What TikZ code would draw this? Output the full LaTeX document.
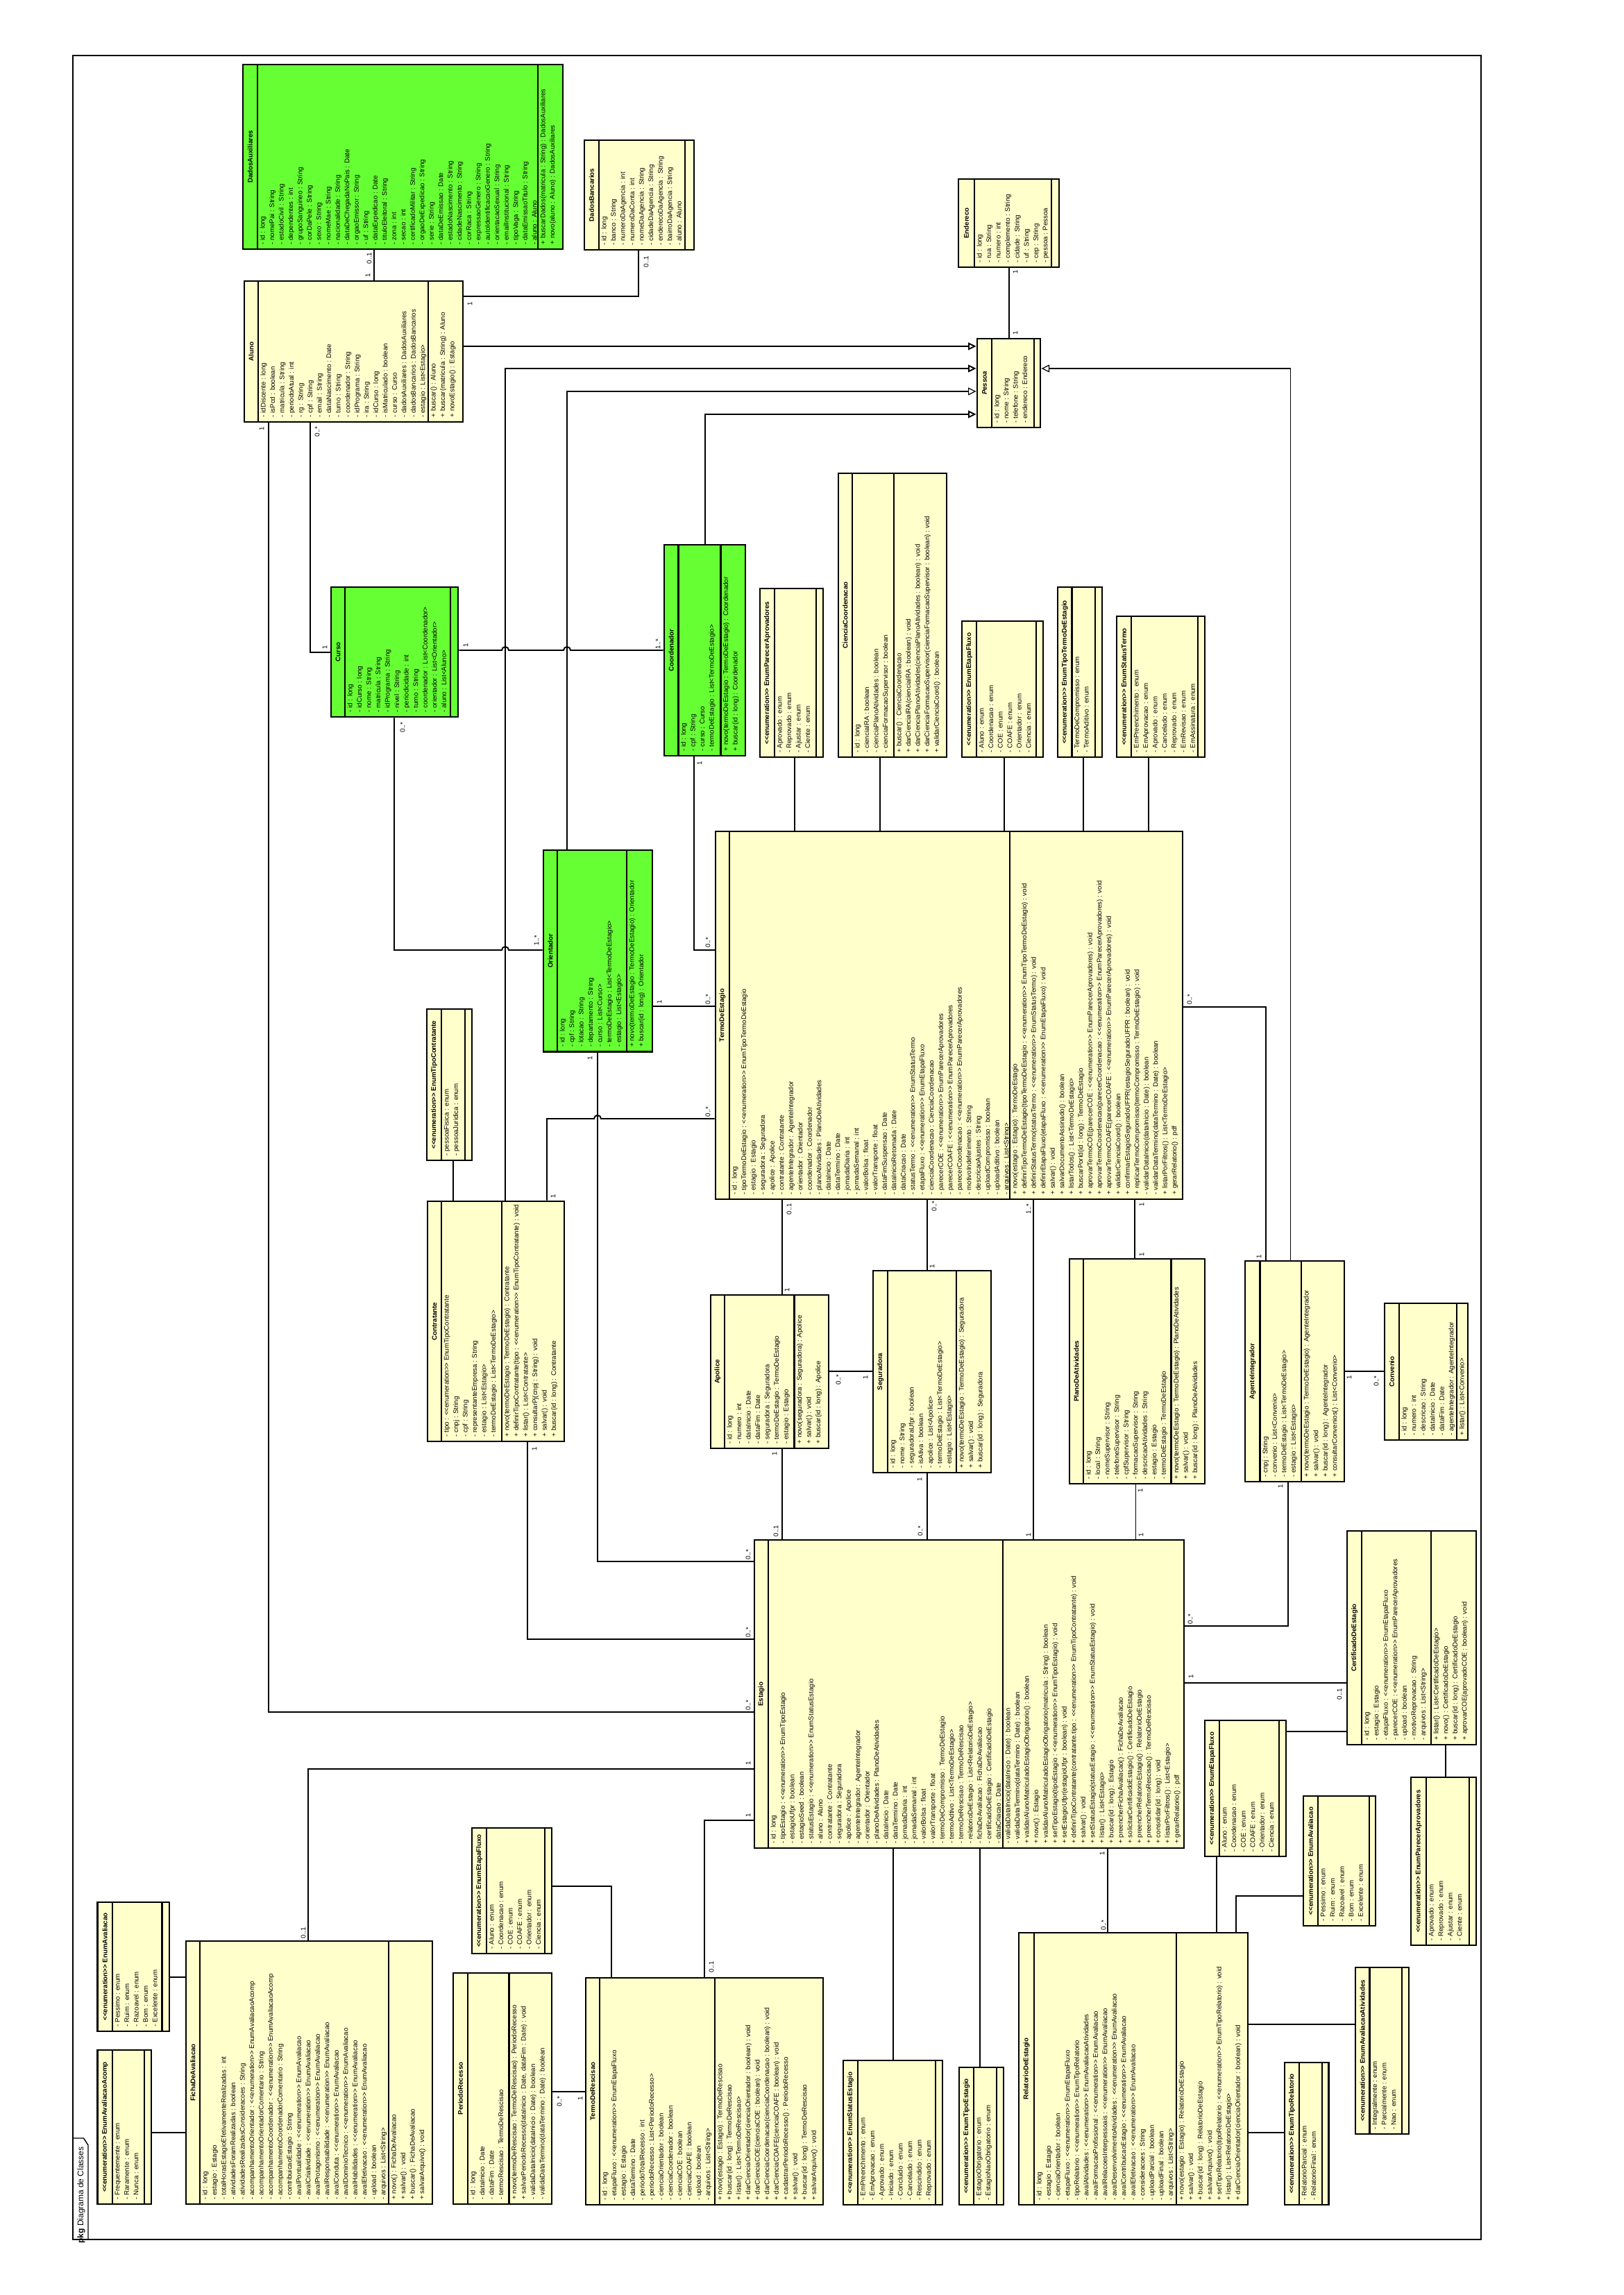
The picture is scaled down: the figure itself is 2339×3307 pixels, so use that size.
\documentclass[tikz,border=0pt]{standalone}
\usepackage{fontspec}
\setmainfont{Liberation Sans}
\usetikzlibrary{arrows.meta,fit}
\definecolor{yel}{HTML}{FFFFCC}
\definecolor{grn}{HTML}{66FF33}
\newcommand\E{<\kern0pt<enumeration>\kern0pt>}
\newcommand\umlclass[9]{%
  \node[draw,line width=0.8pt,fill=#2,inner sep=0pt,fit={(#3,#4)(#5,#6)}] (#1) {};
  \draw[line width=0.7pt] (#7,#4) -- (#7,#6) (#8,#4) -- (#8,#6);
  \node[clstitle] (#1-t) at ({(#3+#7)/2},{(#4+#6)/2}) {#9};
  \coordinate (#1-a) at (#7,#6);
  \coordinate (#1-o) at (#8,#6);}
\newcommand\attrs[2]{\node[clstxt] (#1-at) at ([shift={(3,-6)}]#1-a) {#2};}
\newcommand\opers[2]{\node[clstxt] (#1-op) at ([shift={(3,-6)}]#1-o) {#2};}
\begin{document}
\begin{tikzpicture}[x=0.01cm,y=-0.01cm,
  clstxt/.style={rotate=90,anchor=north west,align=left,inner sep=0pt,font=\fontsize{2.75}{3.84}\selectfont},
  clstitle/.style={rotate=90,inner sep=0pt,align=center,font=\fontsize{2.75}{3.84}\selectfont\bfseries},
  mult/.style={rotate=90,inner sep=0pt,font=\fontsize{2.75}{3.84}\selectfont},
  conn/.style={line width=0.55pt},
  thinc/.style={line width=0.35pt},
  gen/.style={-{Triangle[open,length=3.3pt,width=3.1pt]}}]
\fill[white] (0,0) rectangle (2339,3307);
\useasboundingbox (0,0) rectangle (2339,3307);
\draw[line width=0.4pt] (105,80) rectangle (2134,3227);
\draw[line width=0.4pt] (105,3081) -- (120.5,3081) -- (127,3091) -- (127,3227);
\node[rotate=90,inner sep=0pt,font=\fontsize{3.4}{4}\selectfont] (pkg) at (117,3163) {\textbf{pkg} Diagrama de Classes};

% ---------- classes ----------
\umlclass{dadosaux}{grn}{350}{93}{811}{359}{371}{775}{DadosAuxiliares}
\attrs{dadosaux}{- id : long\\- nomePai : String\\- estadoCivil : String\\- dependentes : int\\- grupoSanguineo : String\\- corDaPele : String\\- sexo : String\\- nomeMae : String\\- nacionalidade : String\\- dataDeChegadaNoPais : Date\\- orgaoEmissor : String\\- uf : String\\- dataExpedicao : Date\\- tituloEleitoral : String\\- zona : int\\- secao : int\\- certificadoMilitar : String\\- orgaoDeExpedicao : String\\- serie : String\\- dataDeEmissao : Date\\- estadoNascimento : String\\- cidadeNascimento : String\\- corRaca : String\\- expressaoGenero : String\\- autoIdentificacaoGenero : String\\- orientacaoSexual : String\\- emailInstitucional : String\\- tipoVaga : String\\- dataEmissaoTitulo : String\\- aluno : Aluno}
\opers{dadosaux}{+ buscarDados(matricula : String) : DadosAuxiliares\\+ novo(aluno : Aluno) : DadosAuxiliares}

\umlclass{aluno}{yel}{352}{405}{667}{608}{372}{617}{Aluno}
\attrs{aluno}{- idDiscente : long\\- isPcd : boolean\\- matricula : String\\- periodoAtual : int\\- rg : String\\- cpf : String\\- email : String\\- dataNascimento : Date\\- turno : String\\- coordenador : String\\- idPrograma : String\\- ira : String\\- idCurso : long\\- isMatriculado : boolean\\- curso : Curso\\- dadosAuxiliares : DadosAuxiliares\\- dadosBancarios : DadosBancarios\\- estagio : List<Estagio>}
\opers{aluno}{+ buscar() : Aluno\\+ buscar(matricula : String) : Aluno\\+ novoEstagio() : Estagio}

\umlclass{dadosban}{yel}{842}{202}{1000}{360}{863}{987}{DadosBancarios}
\attrs{dadosban}{- id : long\\- banco : String\\- numeroDaAgencia : int\\- numeroDaConta : int\\- nomeDaAgencia : String\\- cidadeDaAgencia : String\\- enderecoDaAgencia : String\\- bairroDaAgencia : String\\- aluno : Aluno}

\umlclass{endereco}{yel}{1381}{258}{1526}{385}{1404}{1515}{Endereco}
\attrs{endereco}{- id : long\\- rua : String\\- numero : int\\- complemento : String\\- cidade : String\\- uf : String\\- cep : String\\- pessoa : Pessoa}

\umlclass{pessoa}{yel}{1408}{488}{1499}{616}{1429}{1490}{\itshape Pessoa}
\attrs{pessoa}{- id : long\\- nome : String\\- telefone : String\\- endereco : Endereco}

\umlclass{curso}{grn}{477}{846}{660}{1033}{497}{649}{Curso}
\attrs{curso}{- id : long\\- idCurso : long\\- nome : String\\- matricula : String\\- idPrograma : String\\- nivel : String\\- periodicidade : int\\- turno : String\\- coordenador : List<Coordenador>\\- orientador : List<Orientador>\\- aluno : List<Aluno>}

\umlclass{coord}{grn}{957}{785}{1074}{1089}{977.5}{1038.5}{Coordenador}
\attrs{coord}{- id : long\\- cpf : String\\- curso : Curso\\- termoDeEstagio : List<TermoDeEstagio>}
\opers{coord}{+ novo(termoDeEstagio : TermoDeEstagio) : Coordenador\\+ buscar(id : long) : Coordenador}

\umlclass{enumpa1}{yel}{1095}{848}{1186}{1091}{1116}{1176}{\E{} EnumParecerAprovadores}
\attrs{enumpa1}{- Aprovado : enum\\- Reprovado : enum\\- Ajustar : enum\\- Ciente : enum}

\umlclass{ciencia}{yel}{1208}{682}{1364}{1091}{1228}{1288}{CienciaCoordenacao}
\attrs{ciencia}{- id : long\\- cienciaIRA : boolean\\- cienciaPlanoAtividades : boolean\\- cienciaFormacaoSupervisor : boolean}
\opers{ciencia}{+ buscar() : CienciaCoordenacao\\+ darCienciaIRA(cienciaIRA : boolean) : void\\+ darCienciaPlanoAtividades(cienciaPlanoAtividades : boolean) : void\\+ darCienciaFormacaoSupervisor(cienciaFormacaoSupervisor : boolean) : void\\+ validarCienciaCoord() : boolean}

\umlclass{enumef1}{yel}{1386}{895}{1503}{1091}{1407}{1493}{\E{} EnumEtapaFluxo}
\attrs{enumef1}{- Aluno : enum\\- Coordenacao : enum\\- COE : enum\\- COAFE : enum\\- Orientador : enum\\- Ciencia : enum}

\umlclass{enumtt}{yel}{1524}{846}{1588}{1091}{1544.5}{1578}{\E{} EnumTipoTermoDeEstagio}
\attrs{enumtt}{- TermoDeCompromisso : enum\\- TermoAditivo : enum}

\umlclass{enumst}{yel}{1609}{888}{1736}{1091}{1630}{1726}{\E{} EnumStatusTermo}
\attrs{enumst}{- EmPreenchimento : enum\\- EmAprovacao : enum\\- Aprovado : enum\\- Cancelado : enum\\- Reprovado : enum\\- EmRevisao : enum\\- EmAssinatura : enum}

\umlclass{orient}{grn}{783}{1225}{940}{1515.5}{803}{903}{Orientador}
\attrs{orient}{- id : long\\- cpf : String\\- lotacao : String\\- departamento : String\\- curso : List<Curso>\\- termoDeEstagio : List<TermoDeEstagio>\\- estagio : List<Estagio>}
\opers{orient}{+ novo(termoDeEstagio : TermoDeEstagio) : Orientador\\+ buscar(id : long) : Orientador}

\umlclass{tde}{yel}{1031}{1198}{1704}{1728}{1051}{1455}{TermoDeEstagio}
\attrs{tde}{- id : long\\- tipoTermoDeEstagio : \E{} EnumTipoTermoDeEstagio\\- estagio : Estagio\\- seguradora : Seguradora\\- apolice : Apolice\\- contratante : Contratante\\- agenteIntegrador : AgenteIntegrador\\- orientador : Orientador\\- coordenador : Coordenador\\- planoAtividades : PlanoDeAtividades\\- dataInicio : Date\\- dataTermino : Date\\- jornadaDiaria : int\\- jornadaSemanal : int\\- valorBolsa : float\\- valorTransporte : float\\- dataFimSuspensao : Date\\- dataInicioRetomada : Date\\- dataCriacao : Date\\- statusTermo : \E{} EnumStatusTermo\\- etapaFluxo : \E{} EnumEtapaFluxo\\- cienciaCoordenacao : CienciaCoordenacao\\- parecerCOE : \E{} EnumParecerAprovadores\\- parecerCOAFE : \E{} EnumParecerAprovadores\\- parecerCoordenacao : \E{} EnumParecerAprovadores\\- motivoIndeferimento : String\\- descricaoAjustes : String\\- uploadCompromisso : boolean\\- uploadAditivo : boolean\\- arquivos : List<String>}
\opers{tde}{+ novo(estagio : Estagio) : TermoDeEstagio\\+ definirTipoTermoDeEstagio(tipoTermoDeEstagio : \E{} EnumTipoTermoDeEstagio) : void\\+ definirStatusTermo(statusTermo : \E{} EnumStatusTermo) : void\\+ definirEtapaFluxo(etapaFluxo : \E{} EnumEtapaFluxo) : void\\+ salvar() : void\\+ salvarDocumentoAssinado() : boolean\\+ listarTodos() : List<TermoDeEstagio>\\+ buscarPorId(id : long) : TermoDeEstagio\\+ aprovarTermoCOE(parecerCOE : \E{} EnumParecerAprovadores) : void\\+ aprovarTermoCoordenacao(parecerCoordenacao : \E{} EnumParecerAprovadores) : void\\+ aprovarTermoCOAFE(parecerCOAFE : \E{} EnumParecerAprovadores) : void\\+ validarCienciaCoord() : boolean\\+ confirmarEstagioSeguradoUFPR(estagioSeguradoUFPR : boolean) : void\\+ replicarTermoCompromisso(termoCompromisso : TermoDeEstagio) : void\\- validarDataInicio(dataInicio : Date) : boolean\\- validarDataTermino(dataTermino : Date) : boolean\\+ listarPorFiltros() : List<TermoDeEstagio>\\+ gerarRelatorio() : pdf}

\umlclass{enumtc}{yel}{615}{1454}{680}{1672}{636}{670}{\E{} EnumTipoContratante}
\attrs{enumtc}{- pessoaFisica : enum\\- pessoaJuridica : enum}

\umlclass{contrat}{yel}{616}{1731}{813}{2077}{636}{723}{Contratante}
\attrs{contrat}{- tipo : \E{} EnumTipoContratante\\- cnpj : String\\- cpf : String\\- representanteEmpresa : String\\- estagio : List<Estagio>\\- termoDeEstagio : List<TermoDeEstagio>}
\opers{contrat}{+ novo(termoDeEstagio : TermoDeEstagio) : Contratante\\+ definirTipoContratante(tipo : \E{} EnumTipoContratante) : void\\+ listar() : List<Contratante>\\+ consultarPj(cnpj : String) : void\\+ salvar() : void\\+ buscar(id : long) : Contratante}

\umlclass{apolice}{yel}{1024}{1866}{1194}{2087}{1044}{1144.5}{Apolice}
\attrs{apolice}{- id : long\\- numero : int\\- dataInicio : Date\\- dataFim : Date\\- seguradora : Seguradora\\- termoDeEstagio : TermoDeEstagio\\- estagio : Estagio}
\opers{apolice}{+ novo(seguradora : Seguradora) : Apolice\\+ salvar() : void\\+ buscar(id : long) : Apolice}

\umlclass{segur}{yel}{1258}{1831}{1428}{2122}{1279}{1378}{Seguradora}
\attrs{segur}{- id : long\\- nome : String\\- seguradoraUfpr : boolean\\- isAtiva : boolean\\- apolice : List<Apolice>\\- termoDeEstagio : List<TermoDeEstagio>\\- estagio : List<Estagio>}
\opers{segur}{+ novo(termoDeEstagio : TermoDeEstagio) : Seguradora\\+ salvar() : void\\+ buscar(id : long) : Seguradora}

\umlclass{plano}{yel}{1541}{1814}{1736}{2138}{1561}{1687.5}{PlanoDeAtividades}
\attrs{plano}{- id : long\\- local : String\\- nomeSupervisor : String\\- telefoneSupervisor : String\\- cpfSupervisor : String\\- formacaoSupervisor : String\\- descricaoAtividades : String\\- estagio : Estagio\\- termoDeEstagio : TermoDeEstagio}
\opers{plano}{+ novo(termoDeEstagio : TermoDeEstagio) : PlanoDeAtividades\\+ salvar() : void\\+ buscar(id : long) : PlanoDeAtividades}

\umlclass{agente}{yel}{1794}{1817}{1937}{2135}{1815.6}{1875}{AgenteIntegrador}
\attrs{agente}{- cnpj : String\\- convenio : List<Convenio>\\- termoDeEstagio : List<TermoDeEstagio>\\- estagio : List<Estagio>}
\opers{agente}{+ novo(termoDeEstagio : TermoDeEstagio) : AgenteIntegrador\\+ salvar() : void\\+ buscar(id : long) : AgenteIntegrador\\+ consultarConvenios() : List<Convenio>}

\umlclass{convenio}{yel}{1995}{1878}{2115}{2075}{2016}{2099}{Convenio}
\attrs{convenio}{- id : long\\- numero : int\\- descricao : String\\- dataInicio : Date\\- dataFim : Date\\- agenteIntegrador : AgenteIntegrador}
\opers{convenio}{+ listar() : List<Convenio>}

\umlclass{estagio}{yel}{1087}{2219}{1706}{2663}{1107}{1445}{Estagio}
\attrs{estagio}{- id : long\\- tipoEstagio : \E{} EnumTipoEstagio\\- estagioUfpr : boolean\\- estagioSeed : boolean\\- statusEstagio : \E{} EnumStatusEstagio\\- aluno : Aluno\\- contratante : Contratante\\- seguradora : Seguradora\\- apolice : Apolice\\- agenteIntegrador : AgenteIntegrador\\- orientador : Orientador\\- planoDeAtividades : PlanoDeAtividades\\- dataInicio : Date\\- dataTermino : Date\\- jornadaDiaria : int\\- jornadaSemanal : int\\- valorBolsa : float\\- valorTransporte : float\\- termoDeCompromisso : TermoDeEstagio\\- termoAdtivo : List<TermoDeEstagio>\\- termoDeRescisao : TermoDeRescisao\\- relatorioDeEstagio : List<RelatorioDeEstagio>\\- fichaDeAvaliacao : FichaDeAvaliacao\\- certificadoDeEstagio : CertificadoDeEstagio\\- dataCriacao : Date}
\opers{estagio}{- validaDataInicio(dataInicio : Date) : boolean\\- validaDataTermino(dataTermino : Date) : boolean\\+ validarAlunoMatriculadoEstagioObrigatorio() : boolean\\+ novo() : Estagio\\+ validarAlunoMatriculadoEstagioObrigatorio(matricula : String) : boolean\\+ setTipoEstagio(tipoEstagio : \E{} EnumTipoEstagio) : void\\+ setEstagioUfpr(estagioUfpr : boolean) : void\\+ definirTipoContratante(contratante.tipo : \E{} EnumTipoContratante) : void\\+ salvar() : void\\+ setStatusEstagio(statusEstagio : \E{} EnumStatusEstagio) : void\\+ listar() : List<Estagio>\\+ buscar(id : long) : Estagio\\+ preencherFichaAvaliacao() : FichaDeAvaliacao\\+ solicitarCertificadoEstagio() : CertificadoDeEstagio\\+ preencherRelatorioEstagio() : RelatorioDeEstagio\\+ preencherTermoRescisao() : TermoDeRescisao\\+ consolidar(id : long) : void\\+ listarPorFiltros() : List<Estagio>\\+ gerarRelatorio() : pdf}

\umlclass{cert}{yel}{1941}{2206}{2127}{2514}{1962}{2062}{CertificadoDeEstagio}
\attrs{cert}{- id : long\\- estagio : Estagio\\- etapaFluxo : \E{} EnumEtapaFluxo\\- parecerCOE : \E{} EnumParecerAprovadores\\- upload : boolean\\- motivoReprovacao : String\\- arquivos : List<String>}
\opers{cert}{+ listar() : List<CertificadoDeEstagio>\\+ novo() : CertificadoDeEstagio\\+ buscar(id : long) : CertificadoDeEstagio\\+ aprovarCOE(aprovadoCOE : boolean) : void}

\umlclass{enumef2}{yel}{1736}{2479}{1853}{2675}{1757}{1843}{\E{} EnumEtapaFluxo}
\attrs{enumef2}{- Aluno : enum\\- Coordenacao : enum\\- COE : enum\\- COAFE : enum\\- Orientador : enum\\- Ciencia : enum}

\umlclass{enumav2}{yel}{1878}{2588}{1982}{2775}{1899}{1973}{\E{} EnumAvaliacao}
\attrs{enumav2}{- Pessimo : enum\\- Ruim : enum\\- Razoavel : enum\\- Bom : enum\\- Excelente : enum}

\umlclass{enumpa2}{yel}{2033}{2561}{2127}{2803}{2055}{2117}{\E{} EnumParecerAprovadores}
\attrs{enumpa2}{- Aprovado : enum\\- Reprovado : enum\\- Ajustar : enum\\- Ciente : enum}

\umlclass{ficha}{yel}{268}{2797}{623}{3176}{288}{560}{FichaDeAvaliacao}
\attrs{ficha}{- id : long\\- estagio : Estagio\\- totalHorasEstagioEfetivamenteRealizadas : int\\- atividadesForamRealizadas : boolean\\- atividadesRealizadasConsideracoes : String\\- acompanhamentoOrientador : \E{} EnumAvaliacaoAcomp\\- acompanhamentoOrientadorComentario : String\\- acompanhamentoCoordenador : \E{} EnumAvaliacaoAcomp\\- acompanhamentoCoordenadorComentario : String\\- contribuicaoEstagio : String\\- avalPontualidade : \E{} EnumAvaliacao\\- avalCriatividade : \E{} EnumAvaliacao\\- avalProtagonismo : \E{} EnumAvaliacao\\- avalResponsabilidade : \E{} EnumAvaliacao\\- avalConduta : \E{} EnumAvaliacao\\- avalDominioTecnico : \E{} EnumAvaliacao\\- avalHabilidades : \E{} EnumAvaliacao\\- avalEfetivacao : \E{} EnumAvaliacao\\- upload : boolean\\- arquivos : List<String>}
\opers{ficha}{+ novo() : FichaDeAvaliacao\\+ salvar() : void\\+ buscar() : FichaDeAvaliacao\\+ salvarArquivo() : void}

\umlclass{enumav1}{yel}{140.5}{2741}{244}{2927}{162}{233.5}{\E{} EnumAvaliacao}
\attrs{enumav1}{- Pessimo : enum\\- Ruim : enum\\- Razoavel : enum\\- Bom : enum\\- Excelente : enum}

\umlclass{enumacomp}{yel}{140.5}{2954}{218}{3176}{162}{208}{\E{} EnumAvaliacaoAcomp}
\attrs{enumacomp}{- Frequentemente : enum\\- Raramente : enum\\- Nunca : enum}

\umlclass{periodo}{yel}{653}{2843}{795}{3176}{674}{733.5}{PeriodoRecesso}
\attrs{periodo}{- id : long\\- dataInicio : Date\\- dataFim : Date\\- termoRescisao : TermoDeRescisao}
\opers{periodo}{+ novo(termoDeRescisao : TermoDeRescisao) : PeriodoRecesso\\+ salvarPeriodoRecesso(dataInicio : Date, dataFim : Date) : void\\- validaDataInicio(dataInicio : Date) : boolean\\- validaDataTermino(dataTermino : Date) : boolean}

\umlclass{enumef3}{yel}{680}{2634}{795}{2815}{701}{785}{\E{} EnumEtapaFluxo}
\attrs{enumef3}{- Aluno : enum\\- Coordenacao : enum\\- COE : enum\\- COAFE : enum\\- Orientador : enum\\- Ciencia : enum}

\umlclass{rescisao}{yel}{844}{2850}{1186}{3177}{864}{1030}{TermoDeRescisao}
\attrs{rescisao}{- id : long\\- etapaFluxo : \E{} EnumEtapaFluxo\\- estagio : Estagio\\- dataTermino : Date\\- periodoTotalRecesso : int\\- periodoRecesso : List<PeriodoRecesso>\\- cienciaOrientador : boolean\\- cienciaCoordenador : boolean\\- cienciaCOE : boolean\\- cienciaCOAFE : boolean\\- upload : boolean\\- arquivos : List<String>}
\opers{rescisao}{+ novo(estagio : Estagio) : TermoDeRescisao\\+ buscar(id : long) : TermoDeRescisao\\+ listar() : List<TermoDeRescisao>\\+ darCienciaOrientador(cienciaOrientador : boolean) : void\\+ darCienciaCOE(cienciaCOE : boolean) : void\\+ darCienciaCoordenacao(cienciaCoordenacao : boolean) : void\\+ darCienciaCOAFE(cienciaCOAFE : boolean) : void\\+ cadastrarPeriodoRecesso() : PeriodoRecesso\\+ salvar() : void\\+ buscar(id : long) : TermoDeRescisao\\+ salvarArquivo() : void}

\umlclass{enumse}{yel}{1215}{2969}{1358}{3177}{1236}{1348}{\E{} EnumStatusEstagio}
\attrs{enumse}{- EmPreenchimento : enum\\- EmAprovacao : enum\\- Aprovado : enum\\- Iniciado : enum\\- Concluido : enum\\- Cancelado : enum\\- Rescindido : enum\\- Reprovado : enum}

\umlclass{enumte}{yel}{1382}{2979}{1446}{3177}{1403}{1436}{\E{} EnumTipoEstagio}
\attrs{enumte}{- EstagioObrigatorio : enum\\- EstagioNaoObrigatorio : enum}

\umlclass{relat}{yel}{1468}{2785}{1798}{3177}{1490}{1695}{RelatorioDeEstagio}
\attrs{relat}{- id : long\\- estagio : Estagio\\- cienciaOrientador : boolean\\- etapaFluxo : \E{} EnumEtapaFluxo\\- tipoRelatorio : \E{} EnumTipoRelatorio\\- avalAtividades : \E{} EnumAvaliacaoAtividades\\- avalFormacaoProfissional : \E{} EnumAvaliacao\\- avalRelacoesInterpessoais : \E{} EnumAvaliacao\\- avalDesenvolvimentoAtividades : \E{} EnumAvaliacao\\- avalContribuicaoEstagio : \E{} EnumAvaliacao\\- avalEfetivacao : \E{} EnumAvaliacao\\- consideracoes : String\\- uploadParcial : boolean\\- uploadFinal : boolean\\- arquivos : List<String>}
\opers{relat}{+ novo(estagio : Estagio) : RelatorioDeEstagio\\+ salvar() : void\\+ buscar(id : long) : RelatorioDeEstagio\\+ salvarArquivo() : void\\+ setTipoRelatorio(tipoRelatorio : \E{} EnumTipoRelatorio) : void\\+ listar() : List<RelatorioDeEstagio>\\+ darCienciaOrientador(cienciaOrientador : boolean) : void}

\umlclass{enumtr}{yel}{1851}{2972}{1914.5}{3177}{1872}{1905}{\E{} EnumTipoRelatorio}
\attrs{enumtr}{- RelatorioParcial : enum\\- RelatorioFinal : enum}

\umlclass{enumaa}{yel}{1953}{2835}{2030}{3075}{1973.5}{2020}{\E{} EnumAvaliacaoAtividades}
\attrs{enumaa}{- Integralmente : enum\\- Parcialmente : enum\\- Nao : enum}

% ---------- connectors ----------
\draw[conn] (539,0 |- dadosaux.south) -- (539,0 |- aluno.north);
\draw[conn] (aluno.east |- 0,427) -| (920,0 |- dadosban.south);
\draw[conn,gen] (aluno.east |- 0,499) -- (pessoa.west |- 0,499);
\draw[conn,gen] (728,0 |- contrat.north) -- (728,531) -- (pessoa.west |- 0,531);
\draw[thinc,gen] (817,0 |- orient.north) -- (817,564) -- (pessoa.west |- 0,564);
\draw[conn,gen] (1015.6,0 |- coord.north) -- (1015.6,597) -- (pessoa.west |- 0,597);
\draw[thinc] (1454,0 |- endereco.south) -- (1454,0 |- pessoa.north);
\draw[thinc,gen] (1859.5,0 |- agente.north) -- (1859.5,531) -- (pessoa.east |- 0,531);
\draw[conn] (447,0 |- aluno.south) |- (curso.west |- 0,940);
\draw[conn] (387,0 |- aluno.south) |- (estagio.west |- 0,2467);
\draw[conn] (curso.east |- 0,937) -- (723,937) arc[start angle=180,end angle=0,radius=0.05cm] -- (812,937) arc[start angle=180,end angle=0,radius=0.05cm] -- (coord.west |- 0,937);
\draw[conn] (568,0 |- curso.south) -- (568,1369) -- (723,1369) arc[start angle=180,end angle=0,radius=0.05cm] -- (orient.west |- 0,1369);
\draw[conn] (1000,0 |- coord.south) |- (tde.west |- 0,1369);
\draw[conn] (orient.east |- 0,1450) -- (tde.west |- 0,1450);
\draw[conn] (788,0 |- contrat.north) -- (788,1612) -- (856,1612) arc[start angle=180,end angle=0,radius=0.05cm] -- (tde.west |- 0,1612);
\draw[conn] (861,0 |- orient.south) |- (estagio.west |- 0,2250);
\draw[conn] (760,0 |- contrat.south) |- (estagio.west |- 0,2362);
\draw[conn] (652.7,0 |- enumtc.south) -- (652.7,0 |- contrat.north);
\draw[conn] (1145,0 |- enumpa1.south) -- (1145,0 |- tde.north);
\draw[conn] (1268,0 |- ciencia.south) -- (1268,0 |- tde.north);
\draw[conn] (1447,0 |- enumef1.south) -- (1447,0 |- tde.north);
\draw[conn] (1561,0 |- enumtt.south) -- (1561,0 |- tde.north);
\draw[conn] (1655,0 |- enumst.south) -- (1655,0 |- tde.north);
\draw[thinc] (1127,0 |- tde.south) -- (1127,0 |- apolice.north);
\draw[conn] (1336,0 |- tde.south) -- (1336,0 |- segur.north);
\draw[thinc] (1489,0 |- tde.south) -- (1489,0 |- estagio.north);
\draw[conn] (1635,0 |- tde.south) -- (1635,0 |- plano.north);
\draw[conn] (tde.east |- 0,1451) -| (1824,0 |- agente.north);
\draw[conn] (apolice.east |- 0,1976) -- (segur.west |- 0,1976);
\draw[conn] (agente.east |- 0,1976) -- (convenio.west |- 0,1976);
\draw[thinc] (1127,0 |- apolice.south) -- (1127,0 |- estagio.north);
\draw[conn] (1336,0 |- segur.south) -- (1336,0 |- estagio.north);
\draw[conn] (1636.5,0 |- plano.south) -- (1636.5,0 |- estagio.north);
\draw[conn] (1856,0 |- agente.south) |- (estagio.east |- 0,2343);
\draw[conn] (estagio.east |- 0,2425) -- (cert.west |- 0,2425);
\draw[thinc] (cert.west |- 0,2495) -- (enumef2.east |- 0,2495);
\draw[conn] (2083,0 |- cert.south) -- (2083,0 |- enumpa2.north);
\draw[conn] (1287,0 |- estagio.south) -- (1287,0 |- enumse.north);
\draw[conn] (1412,0 |- estagio.south) -- (1412,0 |- enumte.north);
\draw[conn] (1596,0 |- estagio.south) -- (1596,0 |- relat.north);
\draw[conn] (1753,0 |- enumef2.south) -- (1753,0 |- relat.north);
\draw[thinc] (enumav2.west |- 0,2732) -| (1781,0 |- relat.north);
\draw[conn] (relat.east |- 0,2917) -- (enumaa.west |- 0,2917);
\draw[conn] (relat.east |- 0,3073) -- (enumtr.west |- 0,3073);
\draw[conn] (1014.6,0 |- rescisao.north) |- (estagio.west |- 0,2623);
\draw[conn] (enumef3.east |- 0,2717.6) -| (881,0 |- rescisao.north);
\draw[conn] (periodo.east |- 0,3014) -- (rescisao.west |- 0,3014);
\draw[conn] (444,0 |- ficha.north) |- (estagio.west |- 0,2549);
\draw[conn] (enumav1.east |- 0,2849) -- (ficha.west |- 0,2849);
\draw[conn] (enumacomp.east |- 0,3072.5) -- (ficha.west |- 0,3072.5);

% ---------- multiplicities ----------
\node[mult] (m1) at (532,372) {0..1};
\node[mult] (m2) at (530,397) {1};
\node[mult] (m3) at (677,438) {1};
\node[mult] (m4) at (931,377) {0..1};
\node[mult] (m5) at (1463,392) {1};
\node[mult] (m6) at (1463,480) {1};
\node[mult] (m7) at (377,618) {1};
\node[mult] (m8) at (457,622) {0..*};
\node[mult] (m9) at (468,933) {1};
\node[mult] (m10) at (671,930) {1};
\node[mult] (m11) at (948,928) {1..*};
\node[mult] (m12) at (580,1048) {0..*};
\node[mult] (m13) at (773,1355) {1..*};
\node[mult] (m14) at (1008,1100) {1};
\node[mult] (m15) at (1020,1358) {0..*};
\node[mult] (m16) at (950,1444) {1};
\node[mult] (m17) at (1020,1440) {0..*};
\node[mult] (m18) at (797,1724) {1};
\node[mult] (m19) at (1020,1602) {0..*};
\node[mult] (m20) at (850,1525) {1};
\node[mult] (m21) at (1137,1742) {0..1};
\node[mult] (m22) at (1346,1738) {0..*};
\node[mult] (m23) at (1482,1742) {1..*};
\node[mult] (m24) at (1645,1736) {1};
\node[mult] (m25) at (1134,1859) {1};
\node[mult] (m26) at (1343,1825) {1};
\node[mult] (m27) at (1645,1808) {1};
\node[mult] (m28) at (1814,1811) {1};
\node[mult] (m29) at (1714,1440) {0..*};
\node[mult] (m30) at (1208,1988) {0..*};
\node[mult] (m31) at (1247,1985) {1};
\node[mult] (m32) at (1944,1985) {1};
\node[mult] (m33) at (1983,1990) {0..*};
\node[mult] (m34) at (1116,2095) {1};
\node[mult] (m35) at (1325,2132) {1};
\node[mult] (m36) at (1643,2148) {1};
\node[mult] (m37) at (1845,2142) {1};
\node[mult] (m38) at (1118,2206) {0..1};
\node[mult] (m39) at (1326,2206) {0..*};
\node[mult] (m40) at (1482,2212) {1};
\node[mult] (m41) at (1644,2212) {1};
\node[mult] (m42) at (1715,2333) {0..*};
\node[mult] (m43) at (1716,2416) {1};
\node[mult] (m44) at (1930,2441) {0..1};
\node[mult] (m45) at (1588,2671) {1};
\node[mult] (m46) at (1590,2774) {0..*};
\node[mult] (m47) at (1025,2834) {0..1};
\node[mult] (m48) at (1078,2616) {1};
\node[mult] (m49) at (806,3028) {0..*};
\node[mult] (m50) at (836,3024) {1};
\node[mult] (m51) at (437,2785) {0..1};
\node[mult] (m52) at (1078,2240) {0..*};
\node[mult] (m53) at (1078,2352) {0..*};
\node[mult] (m54) at (1078,2457) {0..*};
\node[mult] (m55) at (1078,2541) {1};
\node[mult] (m56) at (770,2088) {1};
\end{tikzpicture}
\end{document}
